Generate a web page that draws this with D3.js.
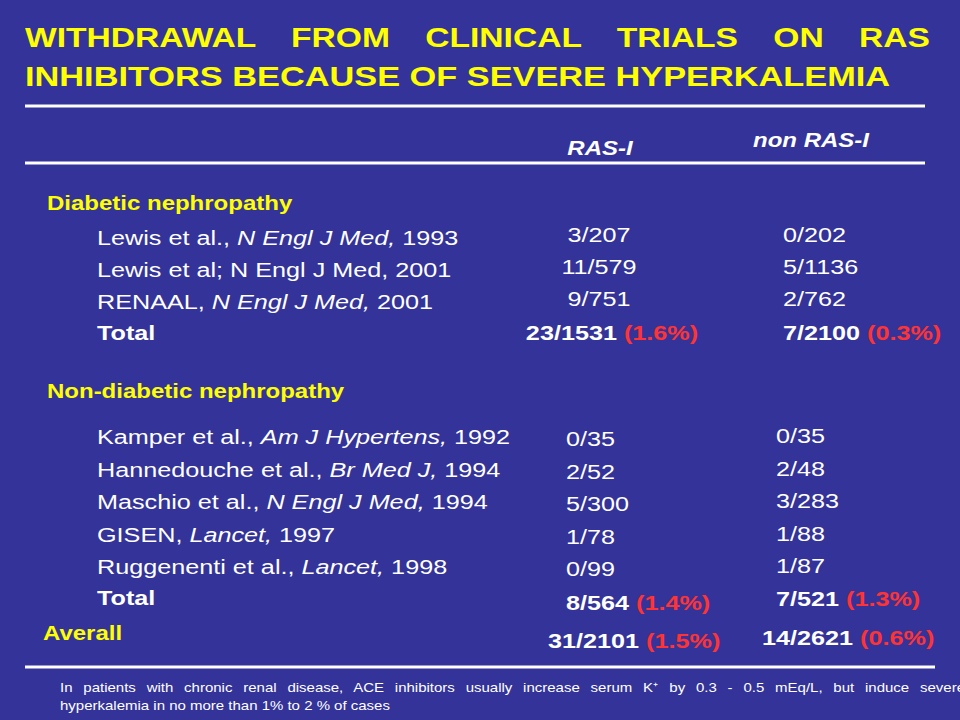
<!DOCTYPE html>
<html><head><meta charset="utf-8">
<script src="https://cdn.jsdelivr.net/npm/d3@7"></script>
<style>body{margin:0;background:#333399}svg{display:block;font-family:"Liberation Sans",Arial,sans-serif}</style>
</head><body>
<script>
const titleLines = ["WITHDRAWAL FROM CLINICAL TRIALS ON RAS", "INHIBITORS BECAUSE OF SEVERE HYPERKALEMIA"];
const columns = ["RAS-I", "non RAS-I"];
const groups = ["Diabetic nephropathy", "Non-diabetic nephropathy"];
const diabeticStudies = ["Lewis et al., *N Engl J Med,* 1993", "Lewis et al; N Engl J Med, 2001", "RENAAL, *N Engl J Med,* 2001"];
const diabeticRasI = ["3/207", "11/579", "9/751"];
const diabeticNonRasI = ["0/202", "5/1136", "2/762"];
const diabeticTotal = [["23/1531", "(1.6%)"], ["7/2100", "(0.3%)"]];
const nonDiabeticStudies = ["Kamper et al., *Am J Hypertens,* 1992", "Hannedouche et al., *Br Med J,* 1994", "Maschio et al., *N Engl J Med,* 1994", "GISEN, *Lancet,* 1997", "Ruggenenti et al., *Lancet,* 1998"];
const nonDiabeticRasI = ["0/35", "2/52", "5/300", "1/78", "0/99"];
const nonDiabeticNonRasI = ["0/35", "2/48", "3/283", "1/88", "1/87"];
const nonDiabeticTotal = [["8/564", "(1.4%)"], ["7/521", "(1.3%)"]];
const overallLabel = "Averall";
const overall = [["31/2101", "(1.5%)"], ["14/2621", "(0.6%)"]];
const footnote = ["In patients with chronic renal disease, ACE inhibitors usually increase serum K⁺ by 0.3 - 0.5 mEq/L, but induce severe", "hyperkalemia in no more than 1% to 2 % of cases"];

const W = 960, H = 720, YEL = "#ffff00", RED = "#ff3333", SX = 1.2;
const svg = d3.select("body").append("svg").attr("width", W).attr("height", H);
svg.append("rect").attr("width", W).attr("height", H).attr("fill", "#333399");

function txt(x, y, size, fill, opts) {
  opts = opts || {};
  return svg.append("text").attr("transform", `translate(${x},${y}) scale(${opts.sx || SX},1)`)
    .attr("font-size", size).attr("fill", fill)
    .attr("font-weight", opts.bold ? "bold" : "normal")
    .attr("font-style", opts.italic ? "italic" : "normal")
    .attr("text-anchor", opts.anchor || "start");
}
function justify(t, s, target, sx) {
  t.text(s);
  const w = t.node().getComputedTextLength();
  const n = s.split(" ").length - 1;
  t.attr("word-spacing", (target / sx - w) / n);
}

// title
const t1 = txt(25, 47, 28, YEL, {bold: true, sx: 1.2});
justify(t1, titleLines[0], 905, 1.2);
const t2 = txt(25, 86, 28, YEL, {bold: true, sx: 1.2}).text(titleLines[1]);
{ const w = t2.node().getComputedTextLength(); t2.attr("transform", `translate(25,86) scale(${865 / w},1)`); }

// rules
[[106, 925], [163, 925], [667, 935]].forEach(([y, x2]) =>
  svg.append("line").attr("x1", 25).attr("x2", x2).attr("y1", y).attr("y2", y)
    .attr("stroke", "#fff").attr("stroke-width", 3));

// headers
columns.forEach((d, i) => txt([600, 811][i], [155, 147][i], 20, "#fff", {bold: true, italic: true, anchor: "middle"}).text(d));

function rich(sel, s) {
  s.split("*").forEach((p, i) => { if (p) sel.append("tspan").attr("font-style", i % 2 ? "italic" : "normal").text(p); });
}
function study(x, y, s, bold) { rich(txt(x, y, 21, "#fff", {bold}), s); }
function total(x, y, pair, anchor) {
  const t = txt(x, y, 21, "#fff", {bold: true, anchor});
  t.append("tspan").text(pair[0] + " ");
  t.append("tspan").attr("fill", RED).text(pair[1]);
}
function group(x, y, s) { txt(x, y, 20, YEL, {bold: true}).text(s); }

// diabetic block
const yD = d3.scaleLinear().domain([0, 1]).range([245, 277]);
group(47, 210, groups[0]);
diabeticStudies.forEach((s, i) => study(97, yD(i), s));
study(97, yD(3) - 1, "Total", true);
diabeticRasI.forEach((v, i) => txt(599, yD(i) - 3, 21, "#fff", {anchor: "middle"}).text(v));
diabeticNonRasI.forEach((v, i) => txt(783, yD(i) - 3, 21, "#fff").text(v));
total(612, yD(3) - 1, diabeticTotal[0], "middle");
total(783, yD(3) - 1, diabeticTotal[1]);

// non-diabetic block
const yN = d3.scaleLinear().domain([0, 1]).range([445, 477.5]);
group(47, 398, groups[1]);
nonDiabeticStudies.forEach((s, i) => study(97, yN(i) - 1, s));
study(97, yN(5) - 3, "Total", true);
nonDiabeticRasI.forEach((v, i) => txt(566, yN(i) + 1, 21, "#fff").text(v));
nonDiabeticNonRasI.forEach((v, i) => txt(776, yN(i) - 2, 21, "#fff").text(v));
total(566, yN(5) + 2, nonDiabeticTotal[0]);
total(776, yN(5) - 2, nonDiabeticTotal[1]);

// overall
group(43, 640, overallLabel);
total(548, 648, overall[0]);
total(762, 645, overall[1]);

// footnote
const f1 = txt(60, 692, 12.5, "#fff", {sx: 1.2});
justify(f1, footnote[0], 905, 1.2);
txt(60, 710, 12.5, "#fff", {sx: 1.2}).text(footnote[1]);
</script>
</body></html>
